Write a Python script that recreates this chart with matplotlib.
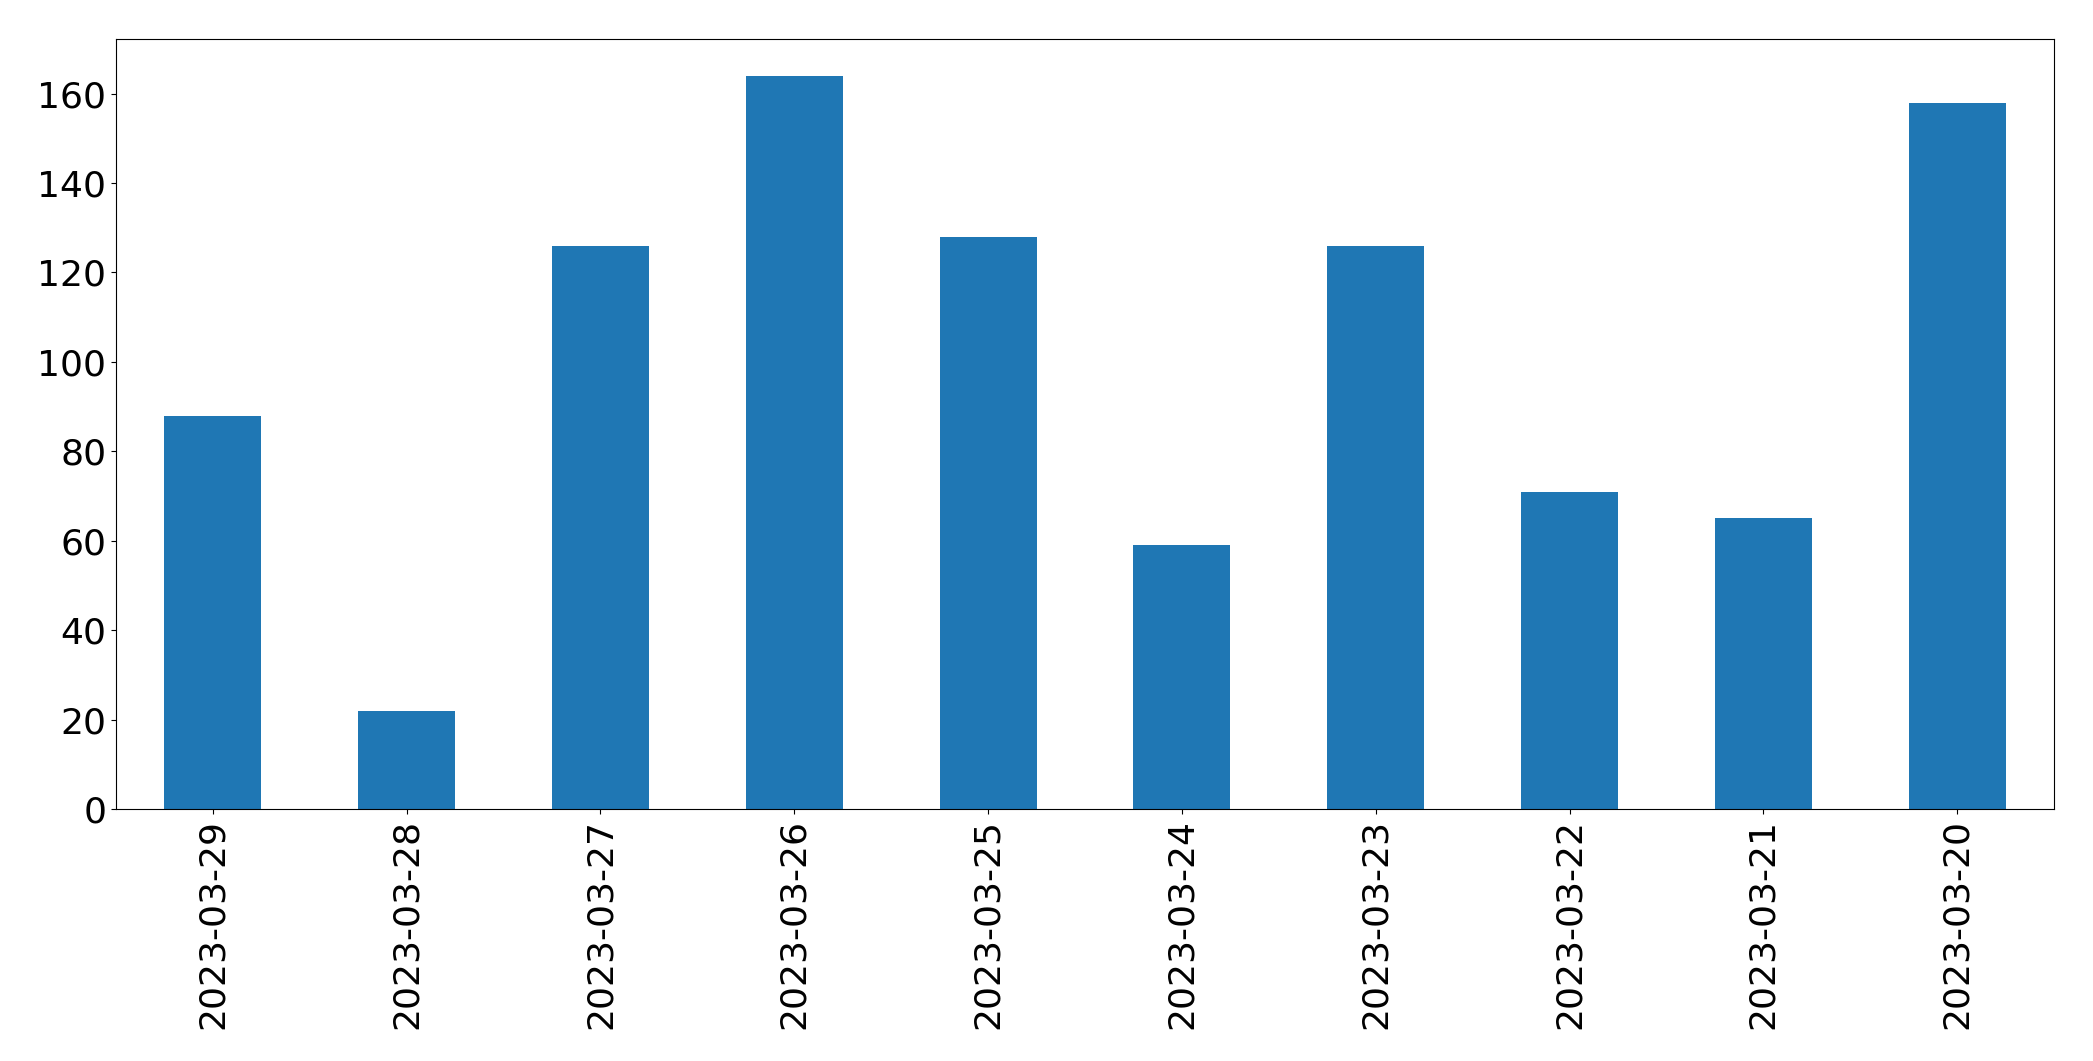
import matplotlib
matplotlib.use('Agg')
import matplotlib.pyplot as plt
import pandas as pd

# datas e contagens
datas = ['2023-03-29', '2023-03-28', '2023-03-27', '2023-03-26', '2023-03-25',
         '2023-03-24', '2023-03-23', '2023-03-22', '2023-03-21', '2023-03-20']
contagens = [88, 22, 126, 164, 128, 59, 126, 71, 65, 158]

serie = pd.Series(contagens, index=datas)

fig = plt.figure(figsize=(20.93, 10.61), dpi=100)
ax = fig.add_axes([0.0554, 0.2375, 0.926, 0.7257])
serie.plot(kind='bar', ax=ax, color='#1f77b4')
ax.tick_params(axis='both', labelsize=26)
plt.savefig('out.png', dpi=100)
